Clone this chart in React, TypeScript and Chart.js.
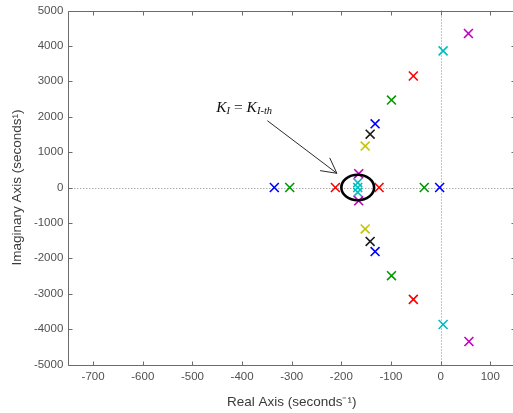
import React, { useEffect, useRef } from "react";
import { Chart, registerables } from "chart.js";

Chart.register(...registerables);

// ---- axis ranges & tick labels ----
const xRange = [-750, 150];
const yRange = [-5000, 5000];
const xTicks = [-700, -600, -500, -400, -300, -200, -100, 0, 100];
const yTicks = [-5000, -4000, -3000, -2000, -1000, 0, 1000, 2000, 3000, 4000, 5000];

// ---- pole locations (real, imaginary) per colour ----
const bluePoles = [
  { x: -335, y: 0 },
  { x: -2, y: 0 },
  { x: -132, y: 1800 },
  { x: -132, y: -1810 },
];
const greenPoles = [
  { x: -304, y: 0 },
  { x: -33, y: 0 },
  { x: -99, y: 2470 },
  { x: -99, y: -2490 },
];
const redPoles = [
  { x: -212, y: 0 },
  { x: -124, y: 0 },
  { x: -55, y: 3150 },
  { x: -55, y: -3160 },
];
const cyanPoles = [
  { x: 5, y: 3860 },
  { x: 5, y: -3870 },
  { x: -167, y: 135 },
  { x: -167, y: 0 },
  { x: -167, y: -135 },
];
const magentaPoles = [
  { x: 56, y: 4350 },
  { x: 57, y: -4350 },
  { x: -165, y: 390 },
  { x: -165, y: -375 },
];
const yellowPoles = [
  { x: -152, y: 1170 },
  { x: -152, y: -1170 },
];
const blackPoles = [
  { x: -142, y: 1505 },
  { x: -142, y: -1525 },
];

// ---- annotation (data units) ----
const ellipseCenter = { x: -167, y: 0 };
const ellipseRadii = { x: 33, y: 360 };
const arrowFrom = { x: -349, y: 1887 };
const arrowTo = { x: -209, y: 401 };
const labelAt = { x: -452, y: 2133 };

const seriesList = [
  { name: "b", data: bluePoles, color: "#0000ff" },
  { name: "g", data: greenPoles, color: "#009a00" },
  { name: "r", data: redPoles, color: "#ff0000" },
  { name: "m", data: magentaPoles, color: "#c000c0" },
  { name: "c", data: cyanPoles, color: "#00bcbc" },
  { name: "y", data: yellowPoles, color: "#c4c400" },
  { name: "k", data: blackPoles, color: "#1a1a1a" },
];

const AXIS_COLOR = "#6b6b6b";
const SANS = "'Liberation Sans', Arial, Helvetica, sans-serif";
const SERIF = "'Liberation Serif', 'Times New Roman', serif";

const decor = {
  id: "decor",
  beforeDatasetsDraw(chart: any) {
    const { ctx, chartArea: a, scales } = chart;
    const xs = scales.x;
    const ys = scales.y;
    ctx.save();
    // dotted zero lines
    ctx.strokeStyle = "#8a8a8a";
    ctx.lineWidth = 1;
    ctx.setLineDash([1, 2]);
    const y0 = Math.round(ys.getPixelForValue(0)) + 0.5;
    ctx.beginPath();
    ctx.moveTo(a.left, y0);
    ctx.lineTo(a.right, y0);
    ctx.stroke();
    const x0 = Math.round(xs.getPixelForValue(0)) + 0.5;
    ctx.beginPath();
    ctx.moveTo(x0, a.top);
    ctx.lineTo(x0, a.bottom);
    ctx.stroke();
    ctx.setLineDash([]);

    // box
    ctx.strokeStyle = AXIS_COLOR;
    const L = Math.round(a.left) + 0.5;
    const R = Math.round(a.right) + 0.5;
    const T = Math.round(a.top) + 0.5;
    const B = Math.round(a.bottom) + 0.5;
    ctx.beginPath();
    ctx.rect(L, T, R - L, B - T);
    ctx.stroke();

    // inward ticks
    const tl = 4;
    ctx.beginPath();
    xTicks.forEach((v) => {
      const px = Math.round(xs.getPixelForValue(v)) + 0.5;
      ctx.moveTo(px, B);
      ctx.lineTo(px, B - tl);
      ctx.moveTo(px, T);
      ctx.lineTo(px, T + tl);
    });
    yTicks.forEach((v) => {
      const py = Math.round(ys.getPixelForValue(v)) + 0.5;
      ctx.moveTo(L, py);
      ctx.lineTo(L + tl, py);
      ctx.moveTo(R, py);
      ctx.lineTo(R - tl, py);
    });
    ctx.stroke();
    ctx.restore();
  },
  afterDatasetsDraw(chart: any) {
    const { ctx, scales } = chart;
    const xs = scales.x;
    const ys = scales.y;
    ctx.save();
    // ellipse
    const cx = xs.getPixelForValue(ellipseCenter.x);
    const cy = ys.getPixelForValue(ellipseCenter.y);
    const rx = Math.abs(xs.getPixelForValue(ellipseCenter.x + ellipseRadii.x) - cx);
    const ry = Math.abs(ys.getPixelForValue(ellipseCenter.y + ellipseRadii.y) - cy);
    ctx.strokeStyle = "#000";
    ctx.lineWidth = 2.6;
    ctx.beginPath();
    ctx.ellipse(cx, cy, rx, ry, 0, 0, Math.PI * 2);
    ctx.stroke();

    // arrow
    const ax1 = xs.getPixelForValue(arrowFrom.x);
    const ay1 = ys.getPixelForValue(arrowFrom.y);
    const ax2 = xs.getPixelForValue(arrowTo.x);
    const ay2 = ys.getPixelForValue(arrowTo.y);
    ctx.strokeStyle = "#2a2a2a";
    ctx.lineWidth = 1;
    ctx.beginPath();
    ctx.moveTo(ax1, ay1);
    ctx.lineTo(ax2, ay2);
    const ang = Math.atan2(ay1 - ay2, ax1 - ax2);
    const hl = 17;
    const ha = (28 * Math.PI) / 180;
    ctx.moveTo(ax2 + hl * Math.cos(ang + ha), ay2 + hl * Math.sin(ang + ha));
    ctx.lineTo(ax2, ay2);
    ctx.lineTo(ax2 + hl * Math.cos(ang - ha), ay2 + hl * Math.sin(ang - ha));
    ctx.stroke();

    // label K_I = K_I-th
    let tx = xs.getPixelForValue(labelAt.x);
    const ty = ys.getPixelForValue(labelAt.y);
    ctx.fillStyle = "#111";
    ctx.textBaseline = "alphabetic";
    ctx.textAlign = "left";
    const big = "italic 15.5px " + SERIF;
    const small = "italic 10.5px " + SERIF;
    const bigUp = "15.5px " + SERIF;
    const parts: [string, string, number][] = [
      ["K", big, 0],
      ["I", small, 2],
      [" = ", bigUp, 0],
      ["K", big, 0],
      ["I-th", small, 2],
    ];
    parts.forEach(([t, f, dy]) => {
      ctx.font = f;
      ctx.fillText(t, tx, ty + dy);
      tx += ctx.measureText(t).width;
    });
    ctx.restore();
  },
};

export default function App() {
  const ref = useRef<HTMLCanvasElement | null>(null);

  useEffect(() => {
    if (!ref.current) return;
    const chart = new Chart(ref.current, {
      type: "scatter",
      data: {
        datasets: seriesList.map((s) => ({
          label: s.name,
          data: s.data,
          pointStyle: "crossRot",
          pointRadius: 6.3,
          pointHoverRadius: 6.3,
          borderWidth: 1.6,
          borderColor: s.color,
          backgroundColor: s.color,
          showLine: false,
        })),
      },
      options: {
        responsive: false,
        animation: false,
        devicePixelRatio: 1,
        layout: { padding: { left: 0, right: 0.8, top: 10.5, bottom: 0 } },
        plugins: { legend: { display: false }, tooltip: { enabled: false } },
        scales: {
          x: {
            type: "linear",
            min: xRange[0],
            max: xRange[1],
            grid: { display: false, drawTicks: false },
            border: { display: false },
            afterBuildTicks: (s: any) => {
              s.ticks = xTicks.map((v) => ({ value: v }));
            },
            afterFit: (s: any) => {
              s.height = 48.5;
              s.paddingLeft = 0;
              s.paddingRight = 0;
            },
            ticks: {
              padding: 5,
              color: "#505050",
              font: { family: SANS, size: 11.5 },
              maxRotation: 0,
              autoSkip: false,
              callback: (v: any) => String(v),
            },
            title: {
              display: true,
              text: "Real Axis (seconds\u207B\u00B9)",
              color: "#3a3a3a",
              font: { family: SANS, size: 13.5 },
              padding: { top: 0, bottom: 3 },
            },
          },
          y: {
            type: "linear",
            min: yRange[0],
            max: yRange[1],
            grid: { display: false, drawTicks: false },
            border: { display: false },
            afterBuildTicks: (s: any) => {
              s.ticks = yTicks.map((v) => ({ value: v }));
            },
            afterFit: (s: any) => {
              s.width = 68.3;
              s.paddingTop = 0;
              s.paddingBottom = 0;
            },
            ticks: {
              padding: 5,
              color: "#505050",
              font: { family: SANS, size: 11.5 },
              autoSkip: false,
              callback: (v: any) => String(v),
            },
            title: {
              display: true,
              text: "Imaginary Axis (seconds\u00B9)",
              color: "#3a3a3a",
              font: { family: SANS, size: 13.5 },
              padding: { top: 9, bottom: 0 },
            },
          },
        },
      },
      plugins: [decor],
    } as any);
    return () => chart.destroy();
  }, []);

  return (
    <div
      style={{
        position: "fixed",
        left: 0,
        top: 0,
        width: 513,
        height: 413,
        overflow: "hidden",
        background: "#fff",
      }}
    >
      <canvas ref={ref} width={523} height={413} style={{ display: "block" }} />
    </div>
  );
}
